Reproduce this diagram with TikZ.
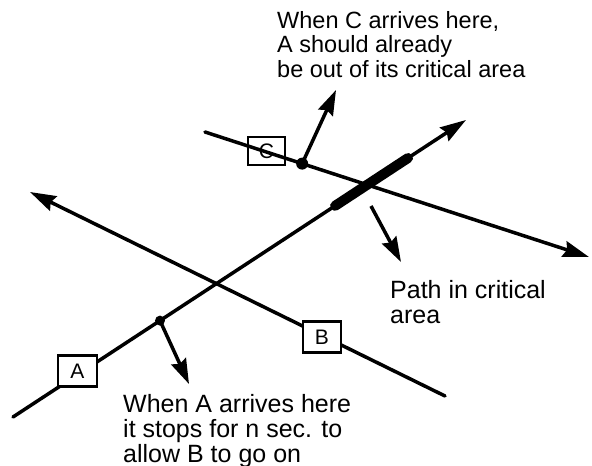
\documentclass[tikz,border=0pt]{standalone}
\usepackage{fontspec}
\setmainfont{Liberation Sans}
\usetikzlibrary{arrows.meta,calc}
\begin{document}
\begin{tikzpicture}[x=1pt,y=-1pt,
  path line/.style={line width=3.5pt, line cap=round},
  big tip/.style={-{Stealth[length=26pt,width=16pt,inset=3pt]}},
  pointer/.style={line width=3.5pt, -{Stealth[length=25pt,width=16pt,inset=3pt]}},
  carbox/.style={draw, line width=2.5pt, inner sep=0pt, minimum width=39pt, minimum height=31pt,
     font=\fontsize{21}{21}\selectfont},
  dotmark/.style={circle, fill=black, inner sep=0pt, minimum size=#1},
  note/.style={anchor=base west, align=left, inner sep=0pt, font=\fontsize{25}{24.7}\selectfont}
]
\useasboundingbox (0,0) rectangle (592,466);
% path coordinates
\coordinate (a0) at (13,417);
\coordinate (a1) at (466,120);
\coordinate (b0) at (445,396);
\coordinate (b1) at (30,192);
\coordinate (c0) at (205,132);
\coordinate (c1) at (589,257);
% paths A and B
\draw[path line, big tip] (a0) -- (a1);
\draw[path line, big tip] (b0) -- (b1);
% critical section on path A
\coordinate (k0) at ($(a0)!0.711!(a1)$);
\coordinate (k1) at ($(a0)!0.872!(a1)$);
\draw[line width=10pt, line cap=round] (k0) -- (k1);
% vehicles
\node[carbox, fill=white] (boxA) at (77.5,371) {A};
\node[carbox, fill=white, minimum width=38pt] (boxB) at (322,337) {B};
\node[carbox, minimum width=37pt, minimum height=28pt] (boxC) at (266.5,151) {C};
% path C
\draw[path line, big tip] (c0) -- (c1);
% stop points
\node[dotmark=10pt] (dotA) at ($(a0)!0.3245!(a1)$) {};
\node[dotmark=12pt] (dotC) at ($(c0)!0.253!(c1)$) {};
% texts (anchor = baseline of the last line)
\node[note, font=\fontsize{23.5}{24.5}\selectfont] (tC) at (277,77) {When C arrives here,\\A should already\\be out of its critical area};
\node[note] (tP) at (390,323) {Path in critical\\area};
\node[note] (tA) at (123,462) {When A arrives here\\it stops for n sec. to\\allow B to go on};
% pointers
\coordinate (pC) at (336,90);
\coordinate (pP0) at (371,206);
\coordinate (pP) at (401,262);
\coordinate (pA) at (189,384);
\draw[pointer] (dotC.center) -- (pC);
\draw[pointer] (pP0) -- (pP);
\draw[pointer] (dotA.center) -- (pA);
\end{tikzpicture}
\end{document}
